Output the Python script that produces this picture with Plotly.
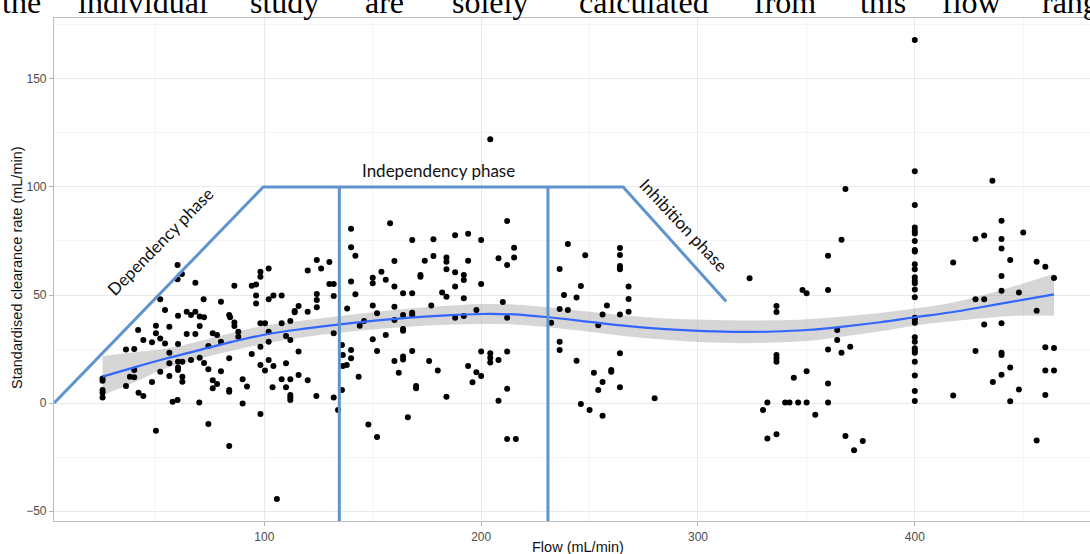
import plotly.graph_objects as go

# ---- observed clearance measurements -------------------------------------
flow = [
    # 25-60 mL/min
    25.4, 25.4, 25.4, 25.4, 25.4,
    36.2, 36.2, 38, 40, 40, 40,
    41.8, 42, 44.2, 44.2, 48.2, 48.2,
    50, 50, 50, 52, 52, 52,
    54.2, 54.2, 56.2, 56.2, 56.2, 56.2, 57.7,
    # 60-100 mL/min
    60, 60, 60, 60.2, 60.2, 60.2, 60.2, 60.2,
    62, 62.2, 62.2, 62.2,
    64.2, 64.2, 66.2, 66.2, 68.2, 68.2, 68.2,
    70, 70.2, 70.2, 70.2, 72, 72.2, 72.2,
    74.2, 74.2, 74.2, 76.2, 76.2, 76.2, 78.2, 78.2,
    80, 80, 80,
    83.8, 83.8, 83.8, 83.8, 83.8, 84.2,
    86.2, 86.2, 86.2, 88, 88, 90, 90, 92,
    94.2, 94.2, 96.2, 96.2, 96.2,
    98.2, 98.2, 98.2, 98.2, 98.2, 98.2,
    # 100-135 mL/min
    100.3, 100.3, 102, 102, 102, 102, 102,
    103.8, 104.2, 104.2, 105.8,
    108, 108, 108, 110, 110, 110,
    112, 112, 112, 112, 112, 112,
    114, 114, 115.8, 115.8, 115.8,
    120, 120, 120, 124, 124.2, 124.2, 124.2, 124.2,
    126.2, 130, 130, 132, 132, 132, 132,
    134,
    # 135-230 mL/min
    135.8, 135.8, 136.2, 136.2, 138, 138.2,
    140, 140, 140, 140, 140, 142, 142, 143.5,
    144, 146, 148,
    150, 150, 150, 150, 152, 152, 152,
    154, 156, 156, 158,
    160, 160, 160, 160, 160,
    162, 164, 164, 164, 164, 164, 164, 166.2,
    168.2, 168.2, 168.2, 168.2, 168.2,
    170, 170, 172, 172, 174, 176,
    177, 178, 178, 180,
    182, 184, 184, 184, 184, 184,
    188, 188, 188, 188,
    192, 192, 192, 192,
    194, 194, 194, 196, 197.8, 197.8,
    200, 200, 200, 200,
    204.2, 204.2, 204.2, 204.2,
    208, 208, 208, 210,
    212, 212, 212, 212, 212, 212,
    215.2, 215.2, 216,
    # 230-300 mL/min
    232.3, 236.2, 236.2, 236.2, 236.2,
    238.2, 240, 240, 244, 244,
    246, 246, 248, 250, 252,
    254, 254, 256, 256, 256, 258,
    260, 260,
    264, 264, 264, 264, 264, 264, 264, 264,
    268, 268, 268, 280,
    # above 300 mL/min
    323.8, 330, 332, 332,
    336.2, 336.2, 336.2, 336.2, 336.2, 336.2,
    340.2, 342.2, 344.2, 346.2,
    348.2, 350.1, 350.1, 350.1, 354.1,
    360, 360, 360, 360, 360,
    364.2, 364.2, 366.2, 366.2, 368, 368,
    370.2, 372, 376,
    400, 400, 400, 400, 400, 400, 400, 400, 400, 400,
    400, 400, 400, 400, 400, 400, 400, 400, 400, 400,
    400, 400, 400, 400, 400, 400, 400, 400,
    417.7, 417.7,
    428, 428, 428, 432, 432, 432,
    435.8, 436,
    440, 440, 440, 440, 440, 440, 440, 440, 440,
    444, 444, 444, 448, 448, 450,
    456.2, 456.2, 456.2,
    460.2, 460.2, 460.2, 460.2,
    464.2, 464.2, 464.2,
]

clearance = [
    # 25-60 mL/min
    11.4, 10.3, 6.0, 4.8, 2.6,
    24.8, 7.9, 12.2, 25.0, 15.3, 11.9,
    33.8, 4.8, 29.2, 3.2, 28.1, 9.7,
    35.8, 32.3, -12.8, 48.0, 29.9, 14.5,
    43.1, 27.6, 35.3, 23.3, 18.4, 12.5, 0.6,
    # 60-100 mL/min
    63.9, 57.3, 1.4, 40.4, 27.3, 19.1, 16.5, 15.3,
    59.7, 19.1, 12.2, 9.9,
    42.3, 31.9, 40.7, 19.9, 55.7, 42.3, 31.9,
    0.2, 40.0, 35.6, 21.0, 48.0, 39.7, 18.5,
    26.4, 15.6, -9.7, 32.3, 10.6, 6.8, 31.5, 8.8,
    46.9, 28.4, 14.7,
    40.7, 20.7, 6.0, 5.2, -19.9, 39.7,
    54.3, 37.3, 35.6, 33.0, 30.7, 11.0, -0.2, 7.6,
    54.3, 22.7, 54.9, 49.8, 46.1,
    60.8, 58.5, 36.9, 26.1, 17.6, -5.1,
    # 100-135 mL/min
    36.9, 15.0, 62.3, 48.0, 33.0, 28.4, 19.9,
    7.3, 49.8, 17.1, -44.4,
    49.8, 36.9, 11.0, 31.0, 18.4, 7.3,
    38.0, 29.2, 11.0, 3.7, 2.6, 1.4,
    42.6, 42.0, 44.9, 23.8, 13.0,
    61.3, 42.3, 10.6, 3.2, 66.2, 50.5, 47.7, 44.3,
    62.3, 65.3, 55.1, 55.1, 49.5, 32.3, 2.6,
    -3.2,
    # 135-230 mL/min
    26.9, 6.0, 22.2, 17.1, 17.6, 43.8,
    80.7, 72.1, 56.2, 24.5, 20.7, 68.2, 50.3, 12.2,
    35.8, 38.0, -9.9,
    58.0, 55.4, 45.1, 29.5, 41.5, 24.1, -15.7,
    60.8, 57.1, 31.5, 83.2,
    65.7, 53.9, 44.6, 38.4, 19.4,
    14.0, 50.8, 40.7, 34.3, 33.5, 21.5, 20.2, -6.6,
    75.5, 50.8, 41.8, 40.7, 24.1,
    7.9, 6.8, 59.3, 58.5, 65.9, 19.4,
    45.1, 75.8, 68.1, 15.0,
    51.2, 67.3, 65.4, 61.9, 49.2, 2.9,
    77.6, 60.5, 53.9, 39.5,
    59.3, 56.9, 48.5, 40.3,
    78.4, 65.9, 17.1, 9.6, 43.1, 14.2,
    75.5, 55.1, 23.8, 12.5,
    122.1, 23.0, 21.0, 18.8,
    67.0, 19.9, 1.1, 46.8,
    84.3, 63.9, 39.5, 23.8, 6.6, -16.7,
    71.9, 67.3, -16.7,
    # 230-300 mL/min
    37.2, 62.0, 43.5, 28.4, 24.5,
    50.0, 73.6, 43.1, 48.8, 19.6,
    54.2, -0.5, 68.4, -3.2, 14.0,
    36.0, 6.0, 41.0, 9.7, -5.9, 45.1,
    15.3, 14.5,
    71.8, 68.5, 63.4, 62.7, 61.9, 41.0, 23.0, 7.3,
    53.9, 48.1, 42.3, 2.2,
    # above 300 mL/min
    57.7, -3.2, 0.2, -16.4,
    44.9, 42.1, 22.2, 20.7, 19.1, -14.5,
    0.2, 0.2, 11.7, 0.2,
    52.3, 50.8, 14.7, 0.2, -5.4,
    68.2, 52.3, 24.8, 9.0, 0.2,
    33.8, 29.2, 75.6, 23.3, 99.1, -15.3,
    26.1, -21.9, -17.6,
    168.0, 107.3, 91.7, 81.2, 79.6, 78.5, 75.0, 70.8, 70.1, 64.2,
    61.9, 58.2, 56.6, 55.4, 52.6, 48.9, 39.5, 38.4, 37.2, 30.4,
    28.4, 25.3, 24.2, 23.3, 19.1, 12.7, 5.6, 0.9,
    65.0, 3.5,
    75.9, 48.0, 24.1, 77.5, 48.0, 36.4,
    102.9, 9.7,
    84.4, 75.9, 71.5, 58.8, 52.0, 36.9, 23.3, 22.2, 13.1,
    66.2, 16.4, 0.8, 51.2, 6.3, 78.9,
    65.4, 42.7, -17.4,
    63.1, 25.8, 15.0, 3.7,
    57.9, 25.5, 15.0,
]

# ---- loess fit with its 95% band ----------------------------------------
smooth_flow = [25.4, 40, 55, 70, 85, 100, 117, 134, 150, 167, 184, 200, 215,
               231, 250, 268, 285, 303, 320, 335, 350, 367, 384, 400, 417,
               433, 449, 464.2]
smooth_fit = [12.2, 16.5, 20.7, 24.5, 28.3, 31.6, 34.2, 36.3, 38.0, 39.5,
              40.6, 41.2, 41.0, 39.7, 37.6, 35.6, 34.2, 33.3, 32.9, 33.1,
              33.8, 35.4, 37.4, 39.7, 42.0, 44.8, 47.6, 50.3]
smooth_lo = [3.7, 9.5, 16.3, 20.5, 24.2, 27.4, 30.3, 32.4, 34.0, 35.3, 36.2,
             36.6, 36.4, 35.1, 33.0, 30.8, 29.3, 28.1, 27.7, 28.0, 28.7,
             30.8, 33.2, 35.8, 37.8, 39.4, 40.4, 40.4]
smooth_hi = [21.8, 23.5, 25.2, 28.6, 32.4, 35.8, 38.1, 40.2, 42.0, 43.7,
             45.0, 45.8, 45.6, 44.3, 42.2, 40.4, 39.1, 38.5, 38.2, 38.3,
             38.8, 40.1, 41.7, 43.7, 46.4, 50.3, 55.0, 59.8]

# ---- hand-drawn phase outline -------------------------------------------
phase_outline_x = [3.1, 99.5, 265.5, 313.0]
phase_outline_y = [0, 100, 100, 47]
phase_dividers = [134.6, 230.8]
phase_names = ["Dependency phase", "Independency phase", "Inhibition phase"]

x_ticks = [100, 200, 300, 400]
y_ticks = [-50, 0, 50, 100, 150]

caption_words = ["the", "individual", "study", "are", "solely",
                 "calculated", "from", "this", "flow", "range"]

# ---- geometry of the page --------------------------------------------------
W, H = 1090, 554
ML, MR, MT, MB = 54, 0, 18, 33
PW, PH = W - ML - MR, H - MT - MB
X_RANGE = [3.0, 480.8]
Y_RANGE = [-54.6, 178.2]


def px_to_paper_x(px):
    return (px - ML) / PW


def px_to_paper_y(py):
    return (H - MB - py) / PH


BLUE_OUTLINE = "#5f94cf"

fig = go.Figure()

# confidence band
fig.add_trace(go.Scatter(x=smooth_flow, y=smooth_lo, mode="lines",
                         line=dict(width=0, shape="spline"),
                         hoverinfo="skip", showlegend=False))
fig.add_trace(go.Scatter(x=smooth_flow, y=smooth_hi, mode="lines",
                         line=dict(width=0, shape="spline"),
                         fill="tonexty", fillcolor="rgba(153,153,153,0.4)",
                         hoverinfo="skip", showlegend=False))

# observations
fig.add_trace(go.Scatter(x=flow, y=clearance, mode="markers",
                         marker=dict(color="black", size=6),
                         showlegend=False))

# loess line
fig.add_trace(go.Scatter(x=smooth_flow, y=smooth_fit, mode="lines",
                         line=dict(color="#3366FF", width=2.2, shape="spline"),
                         showlegend=False))

# phase outline drawn over the data
outline_path = "M " + " L ".join(f"{x},{y}" for x, y in
                                 zip(phase_outline_x, phase_outline_y))
shapes = [dict(type="path", path=outline_path, xref="x", yref="y",
               line=dict(color=BLUE_OUTLINE, width=3), layer="above")]
for xd in phase_dividers:
    shapes.append(dict(type="line", xref="x", yref="y",
                       x0=xd, x1=xd, y0=100, y1=Y_RANGE[0],
                       line=dict(color=BLUE_OUTLINE, width=3), layer="above"))

phase_font = dict(family="Lato, Open Sans, sans-serif", size=17, color="#111111")
annotations = [
    dict(text=phase_names[0], x=51.9, y=74.8, xref="x", yref="y",
         textangle=-45.5, showarrow=False, font=phase_font),
    dict(text=phase_names[1], x=180.2, y=107.5, xref="x", yref="y",
         showarrow=False, font=phase_font),
    dict(text=phase_names[2], x=293.1, y=82.4, xref="x", yref="y",
         textangle=47, showarrow=False, font=phase_font),
]

# axis titles
title_font = dict(family="Liberation Sans, Arial, sans-serif", size=14.5,
                  color="#111111")
annotations.append(dict(text="Flow (mL/min)", x=px_to_paper_x(578),
                        y=px_to_paper_y(547), xref="paper", yref="paper",
                        showarrow=False, font=title_font,
                        xanchor="center", yanchor="middle"))
annotations.append(dict(text="Standardised clearance rate (mL/min)",
                        x=px_to_paper_x(17), y=px_to_paper_y(268),
                        xref="paper", yref="paper", textangle=-90,
                        showarrow=False, font=title_font,
                        xanchor="center", yanchor="middle"))

# running caption line above the panel (its upper half falls off the page)
caption_left_px = [0, 76, 248, 363, 450, 577, 752, 858, 940, 1040]
caption_font = dict(family="Liberation Serif, DejaVu Serif, serif", size=32,
                    color="black")
for word, left in zip(caption_words, caption_left_px):
    annotations.append(dict(text=word, x=px_to_paper_x(left),
                            y=px_to_paper_y(1.5), xref="paper", yref="paper",
                            xanchor="left", yanchor="middle", showarrow=False,
                            font=caption_font))

tick_font = dict(family="Liberation Sans, Arial, sans-serif", size=12,
                 color="#4d4d4d")

fig.update_layout(
    width=W, height=H,
    margin=dict(l=ML, r=MR, t=MT, b=MB, pad=0),
    paper_bgcolor="white", plot_bgcolor="white",
    shapes=shapes, annotations=annotations,
    showlegend=False,
    xaxis=dict(range=X_RANGE, tickmode="array", tickvals=x_ticks,
               ticks="outside", ticklen=4, tickcolor="#b3b3b3",
               tickfont=tick_font, showgrid=True, gridcolor="#e9e9e9",
               gridwidth=1, zeroline=False, showline=True,
               linecolor="#bdbdbd", linewidth=1.2, mirror=True,
               minor=dict(tickmode="array", tickvals=[50, 150, 250, 350, 450],
                          showgrid=True, gridcolor="#f4f4f4", gridwidth=1,
                          ticks="")),
    yaxis=dict(range=Y_RANGE, tickmode="array", tickvals=y_ticks,
               ticks="outside", ticklen=4, tickcolor="#b3b3b3",
               tickfont=tick_font, showgrid=True, gridcolor="#e9e9e9",
               gridwidth=1, zeroline=False, showline=True,
               linecolor="#bdbdbd", linewidth=1.2, mirror=False,
               minor=dict(tickmode="array", tickvals=[-25, 25, 75, 125, 175],
                          showgrid=True, gridcolor="#f4f4f4", gridwidth=1,
                          ticks="")),
)

fig.write_html("out.html", config={"displayModeBar": False})
